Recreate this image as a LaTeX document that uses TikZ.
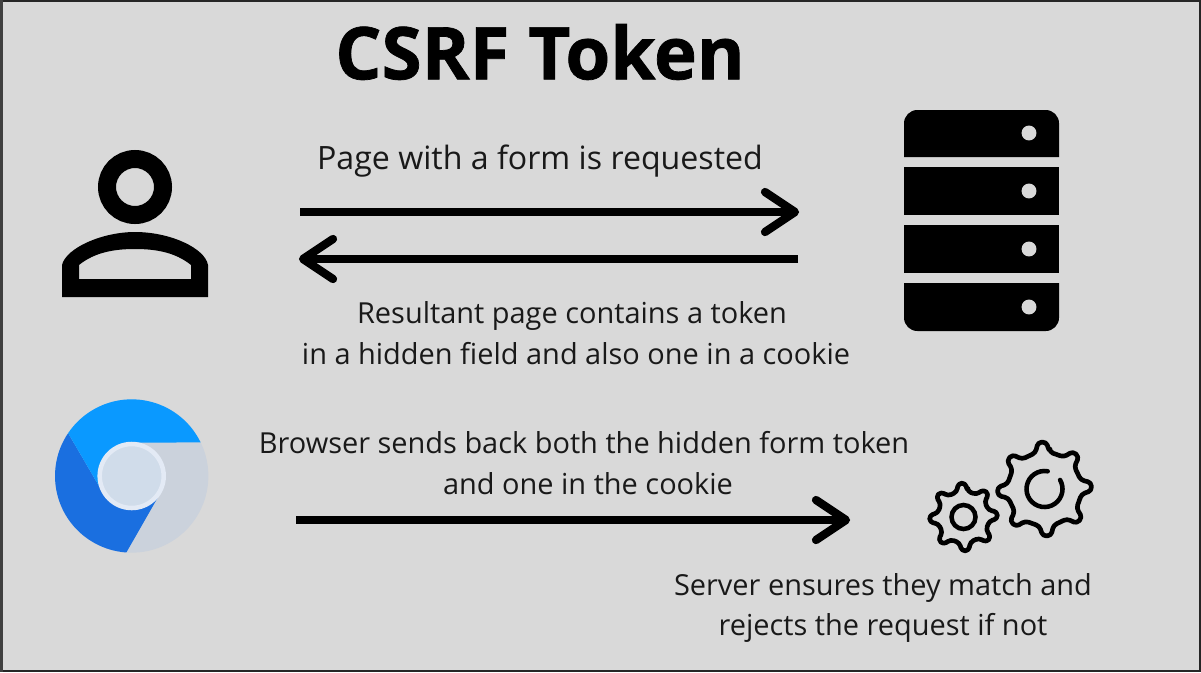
\documentclass[tikz,border=0pt]{standalone}
\usetikzlibrary{calc}
\usepackage{fontspec}
\setmainfont{Open Sans}
\newfontfamily\titlefont[BoldFeatures={FakeBold=1}]{Open Sans}
\definecolor{bg}{HTML}{D9D9D9}
\definecolor{c1}{HTML}{0A99FF}
\definecolor{c2}{HTML}{1A6FE0}
\definecolor{c3}{HTML}{CBD2DC}
\definecolor{c4}{HTML}{D0DCEA}
\definecolor{c5}{HTML}{E3EAF5}
\tikzset{
 lbl/.style={inner sep=0pt,align=center,font=\fontsize{21.7}{30.5}\selectfont,text=black!90},
 arrowline/.style={line width=6.2pt,draw=black},
 tip/.style={line width=6.2pt,draw=black,line cap=round,line join=round},
 gearline/.style={line width=3.5pt,draw=black,line join=round,rounded corners=2.6pt},
 icon/.style={inner sep=0pt,minimum size=1pt},
}
\begin{document}
\begin{tikzpicture}[x=0.75pt,y=-0.75pt]
\useasboundingbox (0,0) rectangle (1201,672);
\fill[bg] (0,0) rectangle (1201,672);
\draw[black!85,line width=1.2pt] (1,1) rectangle (1200,671);
\fill[black!75] (0,0) rectangle (3,672);
\node[inner sep=0pt,font=\titlefont\bfseries\fontsize{54.5}{60}\selectfont] (title) at (540,52) {CSRF Token};
% labels
\node[lbl,font=\fontsize{24.1}{30.5}\selectfont] (l1) at (540,161) {Page with a form is requested};
\node[lbl] (l2) at (576,333) {Resultant page contains a token\hspace*{6pt}\\in a hidden field and also one in a cookie};
\node[lbl] (l3) at (584,463) {Browser sends back both the hidden form token\\\hspace*{6pt}and one in the cookie};
\node[lbl,font=\fontsize{21.7}{30}\selectfont] (l4) at (883,608) {Server ensures they match and\\rejects the request if not};
% person
\node[icon] (person) at (135,223) {};
\draw[line width=13.5pt] (135,187) circle (21pt);
\fill[even odd rule] (62,297) -- (62,265) .. controls (66,248) and (102,232) .. (135,232) .. controls (170,232) and (205,248) .. (208,265) -- (208,297) -- cycle
 (79,279) -- (191,279) -- (191,265) .. controls (175,252) and (155,249) .. (135,249) .. controls (115,249) and (95,252) .. (79,265) -- cycle;
% server
\node[icon] (server) at (981,220) {};
\fill (904,157) [rounded corners=10pt] -- (904,110) -- (1059,110) [sharp corners] -- (1059,157) -- cycle;
\fill (904,167) rectangle (1059,215);
\fill (904,225) rectangle (1059,273);
\fill (904,283) -- (1059,283) [rounded corners=10pt] -- (1059,331) -- (904,331) [sharp corners] -- cycle;
\foreach \y in {133,191,249,307} \fill[bg] (1029,\y) circle (5.6pt);
% chrome
\node[icon] (browser) at (131.7,476) {};
\fill[c3] (browser) circle (57.5pt);
\fill[c2] (browser) ++(146:57.5pt) arc[start angle=146,end angle=266,radius=57.5pt] -- ($(browser)+(330:25pt)$) -- ($(browser)+(210:25pt)$) -- cycle;
\fill[c1] (browser) ++(26:57.5pt) arc[start angle=26,end angle=146,radius=57.5pt] -- ($(browser)+(210:25pt)$) -- ($(browser)+(90:25pt)$) -- cycle;
\fill[c4] (browser) circle (25pt);
\draw[c5,line width=3.4pt] (browser) circle (24pt);
% gears
\node[icon] (gear1) at (1044.5,489) {};
\node[icon] (gear2) at (963.5,517) {};
\begin{scope}[shift={(gear1)}]
\draw[gearline] (93-11:28pt)
 \foreach \a in {93,138,183,228,273,318,3,48} { -- (\a-11:28pt) -- (\a-5:35.3pt) -- (\a+5:35.3pt) -- (\a+11:28pt) } -- cycle;
\draw[line width=3.4pt,line cap=round] (80:13.5pt) arc[start angle=80,end angle=390,radius=13.5pt];
\end{scope}
\begin{scope}[shift={(gear2)}]
\draw[gearline] (93-12:19.5pt)
 \foreach \a in {93,138,183,228,273,318,3,48} { -- (\a-12:19.5pt) -- (\a-6:25.5pt) -- (\a+6:25.5pt) -- (\a+12:19.5pt) } -- cycle;
\draw[line width=3.4pt] (0,0) circle (9pt);
\end{scope}
% arrows
\coordinate (a1s) at (300,212); \coordinate (a1e) at (795,212);
\coordinate (a2s) at (798,259); \coordinate (a2e) at (303,259);
\coordinate (a3s) at (296,520); \coordinate (a3e) at (846,520);
\draw[arrowline] (a1s) -- (a1e);
\draw[tip] ($(a1e)+(-30,-20)$) -- (a1e) -- ($(a1e)+(-30,20)$);
\draw[arrowline] (a2s) -- (a2e);
\draw[tip] ($(a2e)+(30,-20)$) -- (a2e) -- ($(a2e)+(30,20)$);
\draw[arrowline] (a3s) -- (a3e);
\draw[tip] ($(a3e)+(-30,-20)$) -- (a3e) -- ($(a3e)+(-30,20)$);
\end{tikzpicture}
\end{document}
